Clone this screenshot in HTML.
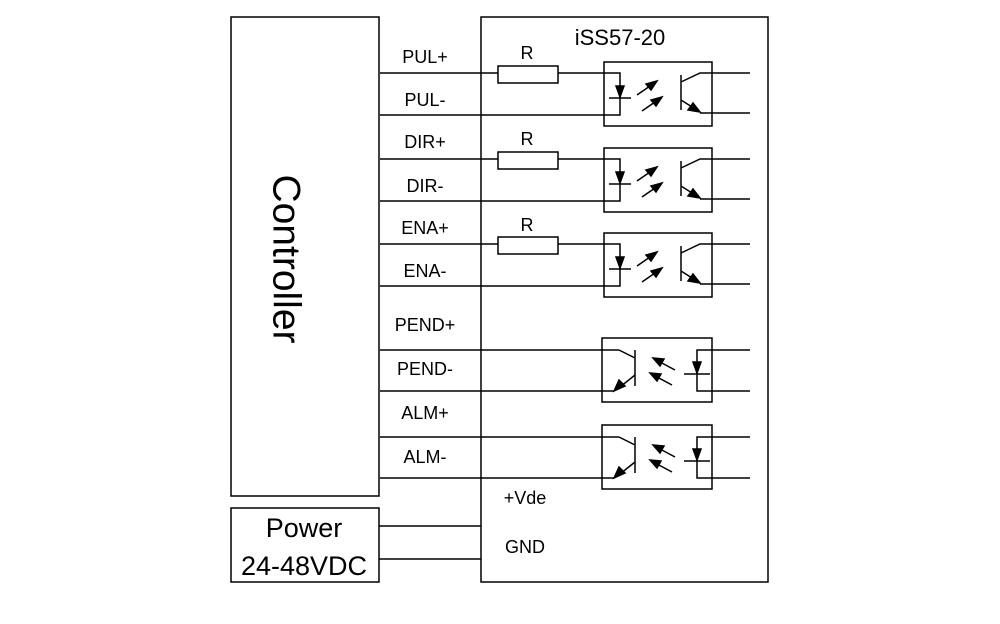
<!DOCTYPE html>
<html><head><style>body{margin:0;background:#fff}svg{display:block}text{font-family:"Liberation Sans",Arial,sans-serif;fill:#000}</style></head>
<body>
<svg width="1000" height="624" viewBox="0 0 1000 624" xmlns="http://www.w3.org/2000/svg">
<defs>
<g id="inopto" stroke="#000" stroke-width="1.5" fill="none">
<rect x="498" y="66" width="60" height="17" fill="#fff"/>
<line x1="380" y1="73" x2="498" y2="73"/>
<polyline points="558,73 620,73 620,115 380,115"/>
<rect x="604" y="62" width="108" height="64"/>
<line x1="609" y1="98" x2="631" y2="98"/>
<polygon points="616,86 624,86 620,97" fill="#000"/>
<line x1="681" y1="75" x2="681" y2="110"/>
<polyline points="681,82 700,73 750,73"/>
<line x1="681" y1="100" x2="700" y2="112"/>
<polygon points="700,112 688,110 693,103" fill="#000"/>
<line x1="700" y1="113" x2="750" y2="113"/>
<line x1="637" y1="95" x2="650" y2="86"/>
<polygon points="657,81 646,84 651,90" fill="#000"/>
<line x1="642" y1="111" x2="655" y2="102"/>
<polygon points="662,97 651,100 656,106" fill="#000"/>
</g>
<g id="outopto" stroke="#000" stroke-width="1.5" fill="none">
<line x1="380" y1="350" x2="619" y2="350"/>
<line x1="619" y1="350" x2="635" y2="358"/>
<line x1="635" y1="350" x2="635" y2="386"/>
<line x1="635" y1="375" x2="620" y2="387"/>
<polygon points="614,391 619,380 625,386" fill="#000"/>
<line x1="614" y1="391" x2="380" y2="391"/>
<rect x="602" y="338" width="110" height="64"/>
<polyline points="750,350 697,350 697,391 750,391"/>
<polygon points="693,362 701,362 697,373" fill="#000"/>
<line x1="684" y1="374" x2="710" y2="374"/>
<line x1="675" y1="370" x2="660" y2="362"/>
<polygon points="653,358 664,359 660,366" fill="#000"/>
<line x1="672" y1="385" x2="657" y2="377"/>
<polygon points="650,373 661,374 657,381" fill="#000"/>
</g>
</defs>
<g stroke="#000" stroke-width="1.5" fill="none">
<rect x="231" y="17" width="148" height="479"/>
<rect x="481" y="17" width="287" height="565"/>
<rect x="231" y="508" width="148" height="74"/>
<line x1="379" y1="526" x2="481" y2="526"/>
<line x1="379" y1="559" x2="481" y2="559"/>
</g>
<use href="#inopto"/>
<use href="#inopto" transform="translate(0,86)"/>
<use href="#inopto" transform="translate(0,171)"/>
<use href="#outopto"/>
<use href="#outopto" transform="translate(0,87)"/>
<text x="286" y="259" font-size="39" text-anchor="middle" transform="rotate(90 286 259)" dominant-baseline="central">Controller</text>
<text x="620" y="45" font-size="22" text-anchor="middle">iSS57-20</text>
<g font-size="18" text-anchor="middle">
<text x="527" y="59">R</text><text x="527" y="145">R</text><text x="527" y="231">R</text>
<text x="425" y="63">PUL+</text><text x="425" y="106">PUL-</text>
<text x="425" y="148">DIR+</text><text x="425" y="192">DIR-</text>
<text x="425" y="234">ENA+</text><text x="425" y="277">ENA-</text>
<text x="425" y="331">PEND+</text><text x="425" y="375">PEND-</text>
<text x="425" y="419">ALM+</text><text x="425" y="463">ALM-</text>
<text x="525" y="504">+Vde</text><text x="525" y="553">GND</text>
</g>
<g font-size="27" text-anchor="middle">
<text x="304" y="537">Power</text><text x="304" y="575">24-48VDC</text>
</g>
</svg>
</body></html>
